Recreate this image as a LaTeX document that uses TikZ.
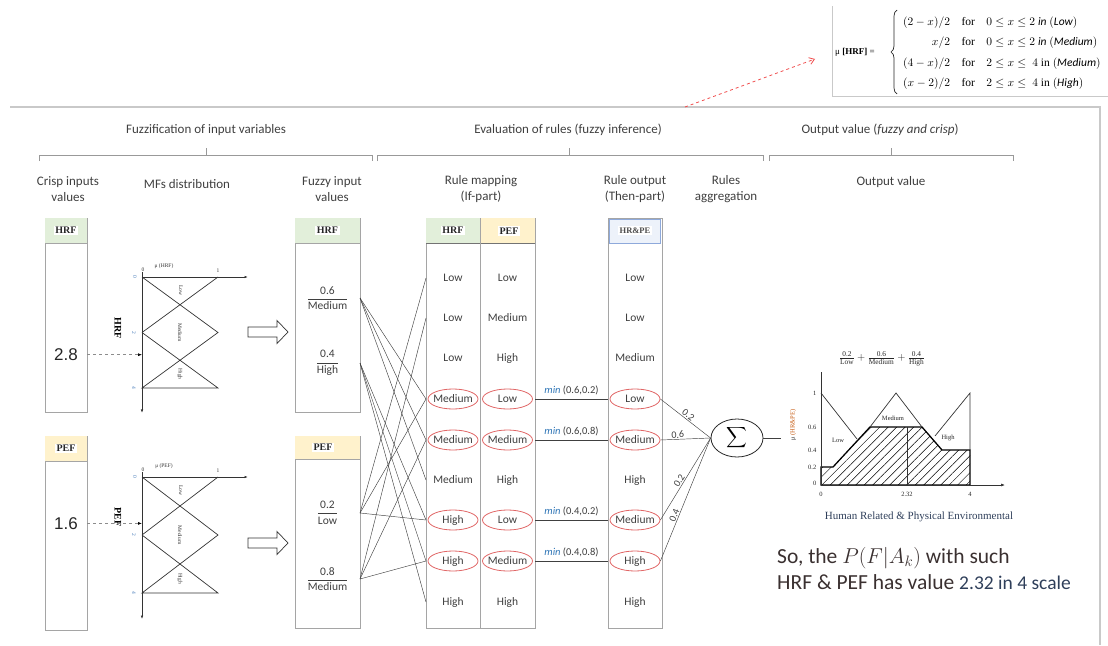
\RequirePackage{fix-cm}
\documentclass[tikz,border=0pt]{standalone}
\usepackage{amsmath}
\usepackage{fontspec}
\setmainfont{Carlito}
\newfontfamily\serifface{Liberation Serif}
\newfontfamily\sansface{Liberation Sans}
\usetikzlibrary{arrows.meta,patterns.meta,shapes.geometric,decorations.pathreplacing}

\definecolor{framegray}{HTML}{C9C9C9}
\definecolor{boxgray}{HTML}{A5A5A5}
\definecolor{txt}{HTML}{3F3F3F}
\definecolor{hrfgreen}{HTML}{E2EFDA}
\definecolor{pefyellow}{HTML}{FFF2CC}
\definecolor{outblue}{HTML}{EDF2FA}
\definecolor{outedge}{HTML}{8EA9DB}
\definecolor{ovalred}{HTML}{E06666}
\definecolor{minblue}{HTML}{2E75B6}
\definecolor{axisorange}{HTML}{C55A11}
\definecolor{ticknum}{HTML}{4A7EBB}
\definecolor{arrowred}{HTML}{F04E4E}
\definecolor{notetext}{HTML}{3A3030}
\definecolor{notenum}{HTML}{2F3F5A}

\tikzset{
  framerule/.style={draw=framegray, line width=1.2pt},
  bracket/.style={draw=black!40, line width=0.7pt},
  heading/.style={font=\fontsize{13}{16}\selectfont, text=txt, align=center, inner sep=0pt},
  colbox/.style={draw=boxgray, line width=0.8pt, inner sep=0pt, outer sep=0pt, anchor=north west},
  tag/.style={fill=white, text=black!85, font=\serifface\bfseries\fontsize{10}{11}\selectfont, inner sep=1.5pt},
  cell/.style={font=\fontsize{11.5}{13}\selectfont, text=txt, inner sep=0pt},
  sel/.style={cell, ellipse, draw=ovalred, line width=0.8pt, minimum width=50pt, minimum height=20pt, inner xsep=-6pt, inner ysep=0pt},
  wire/.style={draw=black!75, line width=0.45pt},
  mf/.style={draw=black!80, line width=0.7pt},
  tiny/.style={font=\serifface\fontsize{5.5}{6}\selectfont, inner sep=0.5pt, text=black!80},
  fuzzval/.style={font=\fontsize{11.5}{13}\selectfont, text=txt, inner sep=0pt},
  crispval/.style={font=\sansface\fontsize{17}{19}\selectfont, text=black!85, inner sep=0pt},
  hollow/.style={draw=black!80, line width=0.7pt, fill=white},
  weight/.style={font=\fontsize{10}{11}\selectfont, text=txt, inner sep=1pt},
  chartlbl/.style={font=\serifface\fontsize{6.5}{7}\selectfont, inner sep=0.5pt, text=black!85},
}
\newcommand{\fz}[2]{$\genfrac{}{}{0.6pt}{0}{\text{#1}}{\text{#2}}$}
\newcommand{\lf}[2]{\genfrac{}{}{0.4pt}{1}{\text{#1}}{\text{#2}}}

\begin{document}
\begin{tikzpicture}[x=1pt,y=-1pt]
\useasboundingbox (0,0) rectangle (1108,645);

% outer frame (top and right edge)
\draw[framerule] (10,107) -- (1100,107) -- (1100,645);

% membership function definition, top right
\draw[draw=framegray, line width=0.8pt] (832,6) -- (832,96) -- (1108,96);
\node[anchor=west, inner sep=0pt, font=\serifface\fontsize{9}{10}\selectfont] (mudef) at (835,52) {μ \textbf{[HRF]} =};
\draw[black!85, line width=0.7pt, decorate, decoration={brace, amplitude=6pt}] (897,94) -- (897,10);
\node[anchor=west, inner sep=0pt, font=\serifface\fontsize{11.5}{14}\selectfont] (formula) at (903,52)
  {$\renewcommand{\arraystretch}{1.43}\begin{array}{@{}r@{\quad}c@{\quad}l@{}}
    (2-x)/2 & \text{for} & 0\le x\le 2\ \mathit{in}\ (\mathit{Low})\\
    x/2 & \text{for} & 0\le x\le 2\ \mathit{in}\ (\mathit{Medium})\\
    (4-x)/2 & \text{for} & 2\le x\le\ 4\ \text{in}\ (\mathit{Medium})\\
    (x-2)/2 & \text{for} & 2\le x\le\ 4\ \text{in}\ (\mathit{High})
  \end{array}$};
\coordinate (fstart) at (685,107);
\coordinate (fend) at (815,59);
\draw[arrowred, dashed, line width=0.8pt, -{Straight Barb[length=5pt,width=7pt]}] (fstart) -- (fend);

% stage titles and brackets
\node[heading] (tfuzz) at (206,130) {Fuzzification of input variables};
\node[heading] (teval) at (568,130) {Evaluation of rules (fuzzy inference)};
\node[heading] (tout) at (880,130) {Output value (\textit{fuzzy and crisp})};
\draw[bracket] (39,161) -- (39,155) -- (372,155) -- (372,161);
\draw[bracket] (206,155) -- (206,148);
\draw[bracket] (377,161) -- (377,155) -- (763,155) -- (763,161);
\draw[bracket] (569,155) -- (569,148);
\draw[bracket] (769,161) -- (769,155) -- (1013,155) -- (1013,161);
\draw[bracket] (891,155) -- (891,148);

% column headings
\node[heading] (hcrisp) at (68,189) {Crisp inputs\\values};
\node[heading] (hmf) at (187,184) {MFs distribution};
\node[heading] (hfuzzy) at (332,189) {Fuzzy input\\values};
\node[heading] (hmap) at (481,189) {Rule mapping\\(If-part)};
\node[heading] (hthen) at (635,189) {Rule output\\(Then-part)};
\node[heading] (hagg) at (726,189) {Rules\\aggregation};
\node[heading] (hval) at (891,182) {Output value};

% crisp inputs and their membership functions
\foreach \lab/\oy/\un/\val/\ty/\hc/\ly in {HRF/277/27.75/2.8/218/hrfgreen/51, PEF/477/29/1.6/436/pefyellow/40}{
  \node[colbox, minimum width=42pt, minimum height=194pt] (crisp\lab) at (45,\ty) {};
  \fill[\hc] (45.4,\ty+0.4) rectangle (86.6,\ty+25);
  \draw[boxgray, line width=0.8pt] (45,\ty+25) -- (87,\ty+25);
  \node[tag] (crisptag\lab) at (66,\ty+12.5) {\lab};
  \node[crispval] (val\lab) at (66,\oy+\val*\un) {\val};
  \begin{scope}[shift={(142,\oy)}]
    \draw[mf, -{Latex[length=3.5pt,width=2.5pt]}] (0,-5) -- (0,4.9*\un);
    \draw[mf, -{Latex[length=3.5pt,width=2.5pt]}] (0,0) -- (106,0);
    \draw[mf] (76,0) -- (0,2*\un);
    \draw[mf] (0,0) -- (76,2*\un) -- (0,4*\un) -- (76,4*\un) -- (0,2*\un);
    \draw[mf, line width=1pt] (0,0) -- (0,4*\un);
    \node[tiny, rotate=-90] (lo\lab) at (39,0.47*\un) {Low};
    \node[tiny, rotate=-90] (me\lab) at (38,2*\un) {Medium};
    \node[tiny, rotate=-90] (hi\lab) at (38,3.5*\un) {High};
    \node[tiny] (mu\lab) at (22,-11) {μ (\lab)};
    \node[tiny] (zero\lab) at (1,-7) {0};
    \node[tiny] (one\lab) at (76,-6) {1};
    \node[tiny, text=ticknum, rotate=-90] (xa\lab) at (-7,0) {0};
    \node[tiny, text=ticknum, rotate=-90] (xb\lab) at (-8,2*\un) {2};
    \node[tiny, text=ticknum, rotate=-90] (xc\lab) at (-8,4*\un) {4};
    \node[font=\serifface\bfseries\fontsize{10}{11}\selectfont, rotate=-90, inner sep=0pt] (axis\lab) at (-24,\ly) {\lab};
    \coordinate (tip\lab) at (0,\val*\un);
  \end{scope}
  \draw[draw=black!45, dashed, line width=0.6pt, -{Latex[length=4pt,width=3pt,black]}] (crisp\lab.east |- val\lab) -- (tip\lab);
}

% fuzzification arrows
\draw[hollow] (248,327) -- (277,327) -- (277,320.5) -- (288,332) -- (277,343.5) -- (277,337) -- (248,337) -- cycle;
\draw[hollow] (248,538) -- (277,538) -- (277,531.5) -- (288,543) -- (277,554.5) -- (277,548) -- (248,548) -- cycle;

% fuzzy input values
\node[colbox, minimum width=65pt, minimum height=194pt] (fuzzHRF) at (295,218) {};
\fill[hrfgreen] (295.4,218.4) rectangle (359.6,243);
\draw[boxgray, line width=0.8pt] (295,243) -- (360,243);
\node[tag] (fuzztagHRF) at (327.5,230.5) {HRF};
\node[fuzzval] (fracHM) at (327.5,298) {\fz{0.6}{Medium}};
\node[fuzzval] (fracHH) at (327.5,363) {\fz{0.4}{High}};

\node[colbox, minimum width=65pt, minimum height=192pt] (fuzzPEF) at (295,436) {};
\fill[pefyellow] (295.4,436.4) rectangle (359.6,459);
\draw[boxgray, line width=0.8pt] (295,459) -- (360,459);
\node[tag] (fuzztagPEF) at (323,447.5) {PEF};
\node[fuzzval] (fracPL) at (327.5,513) {\fz{0.2}{Low}};
\node[fuzzval] (fracPM) at (327.5,579) {\fz{0.8}{Medium}};

% rule mapping (if-part)
\node[colbox, minimum width=109pt, minimum height=410pt] (rmap) at (426,218) {};
\fill[hrfgreen] (426.4,218.4) rectangle (480,243);
\fill[pefyellow] (480,218.4) rectangle (534.6,243);
\draw[black!55, line width=0.8pt] (426,243) -- (535,243);
\draw[boxgray, line width=0.8pt] (480,218) -- (480,628);
\node[tag] (maptagHRF) at (453,230.5) {HRF};
\node[tag] (maptagPEF) at (509,231) {PEF};

% rule output (then-part)
\node[colbox, minimum width=54pt, minimum height=410pt] (rout) at (608,218) {};
\draw[outedge, line width=0.8pt, fill=outblue] (609.2,219.2) rectangle (660.8,243);
\node[tag, font=\serifface\bfseries\fontsize{8.5}{9}\selectfont, text=black!70] (outtag) at (635,230.5) {HR\&PE};

\foreach \i/\y/\a/\b/\c/\s in {
  1/278/Low/Low/Low/cell, 2/318/Low/Medium/Low/cell, 3/358/Low/High/Medium/cell,
  4/399/Medium/Low/Low/sel, 5/440/Medium/Medium/Medium/sel, 6/480/Medium/High/High/cell,
  7/520/High/Low/Medium/sel, 8/561/High/Medium/High/sel, 9/602/High/High/High/cell}{
  \node[\s] (a\i) at (453,\y) {\a};
  \node[\s] (b\i) at (507.5,\y) {\b};
  \node[\s] (c\i) at (635,\y) {\c};
}

% fuzzy values feeding the rules
\foreach \bx/\f/\r in {fuzzHRF/fracHM/4, fuzzHRF/fracHM/5, fuzzHRF/fracHM/6,
  fuzzHRF/fracHH/7, fuzzHRF/fracHH/8, fuzzHRF/fracHH/9,
  fuzzPEF/fracPL/1, fuzzPEF/fracPL/4, fuzzPEF/fracPL/7,
  fuzzPEF/fracPM/2, fuzzPEF/fracPM/5, fuzzPEF/fracPM/8}{
  \draw[wire] (\bx.east |- \f) -- (rmap.west |- a\r);
}

% min operator for the fired rules
\foreach \r/\p in {4/{0.6,0.2}, 5/{0.6,0.8}, 7/{0.4,0.2}, 8/{0.4,0.8}}{
  \draw[wire] (rmap.east |- b\r) -- (rout.west |- c\r)
    node[midway, above=0.5pt, font=\fontsize{10.5}{12}\selectfont, text=txt] {\textcolor{minblue}{\textit{min}} (\p)};
}

% aggregation
\node[draw=black!85, ellipse, line width=0.8pt, minimum width=52pt, minimum height=38pt, inner sep=0pt] (sig) at (737,438)
  {\fontsize{14}{14}\selectfont$\displaystyle\sum$};
\draw[wire] (c4.east) -- (sig.west) node[weight, sloped, midway, above] {0.2};
\draw[wire] (c5.east) -- (sig.west) node[weight, sloped, pos=0.35, above] {0.6};
\draw[wire] (c7.east) -- (sig.west) node[weight, sloped, pos=0.45, above] {0.2};
\draw[wire] (c8.east) -- (sig.west) node[weight, sloped, pos=0.36, above] {0.4};
\coordinate (chartin) at (781,438);
\draw[wire] (sig.east) -- (chartin);

% aggregated output set
\draw[line width=1.3pt, pattern={Lines[angle=45,distance=6pt,line width=0.5pt]}]
  (821,485) -- (821,467) -- (833,467) -- (870,427) -- (922,427) -- (942,450) -- (970,450) -- (970,485) -- cycle;
\draw[mf] (821,393) -- (857,439);
\draw[mf] (870,427) -- (896,393) -- (922,427);
\draw[mf] (935,436) -- (970,393) -- (970,450);
\draw[black!80, line width=0.5pt] (907,485) -- (907,427);
\draw[mf] (821,372) -- (821,485);
\draw[mf, -{Latex[length=4pt,width=3pt]}] (821,485) -- (1005,485);
\node[chartlbl, anchor=east] (ty1) at (817,393) {1};
\node[chartlbl, anchor=east] (ty6) at (817,427) {0.6};
\node[chartlbl, anchor=east] (ty4) at (817,450) {0.4};
\node[chartlbl, anchor=east] (ty2) at (817,467) {0.2};
\node[chartlbl, anchor=east] (ty0) at (817,483) {0};
\node[chartlbl] (tx0) at (821,494) {0};
\node[chartlbl] (tx232) at (907,494) {2.32};
\node[chartlbl] (tx4) at (970,494) {4};
\node[chartlbl] (olow) at (838,440) {Low};
\node[chartlbl] (omed) at (893,418) {Medium};
\node[chartlbl] (ohigh) at (948,438) {High};
\node[chartlbl, rotate=90] (oaxis) at (793,425) {μ \textcolor{axisorange}{(HR\&PE)}};
\node[chartlbl, font=\serifface\fontsize{10.5}{11}\selectfont] (olegend) at (882,359) {$\lf{0.2}{Low}+\lf{0.6}{Medium}+\lf{0.4}{High}$};
\node[font=\serifface\fontsize{11}{12}\selectfont, text=notenum, inner sep=0pt] (otitle) at (919,517) {Human Related \& Physical Environmental};

% conclusion
\node[anchor=base west, inner sep=0pt, font=\fontsize{21.5}{24}\selectfont, text=notetext] (concl1) at (777,563) {So, the $P(F|A_k)$ with such};
\node[anchor=base west, inner sep=0pt, font=\fontsize{21.5}{24}\selectfont, text=notetext] (concl2) at (777,589)
  {HRF \& PEF has value {\fontsize{19.5}{20}\selectfont\color{notenum}2.32 in 4 scale}};
\end{tikzpicture}
\end{document}
